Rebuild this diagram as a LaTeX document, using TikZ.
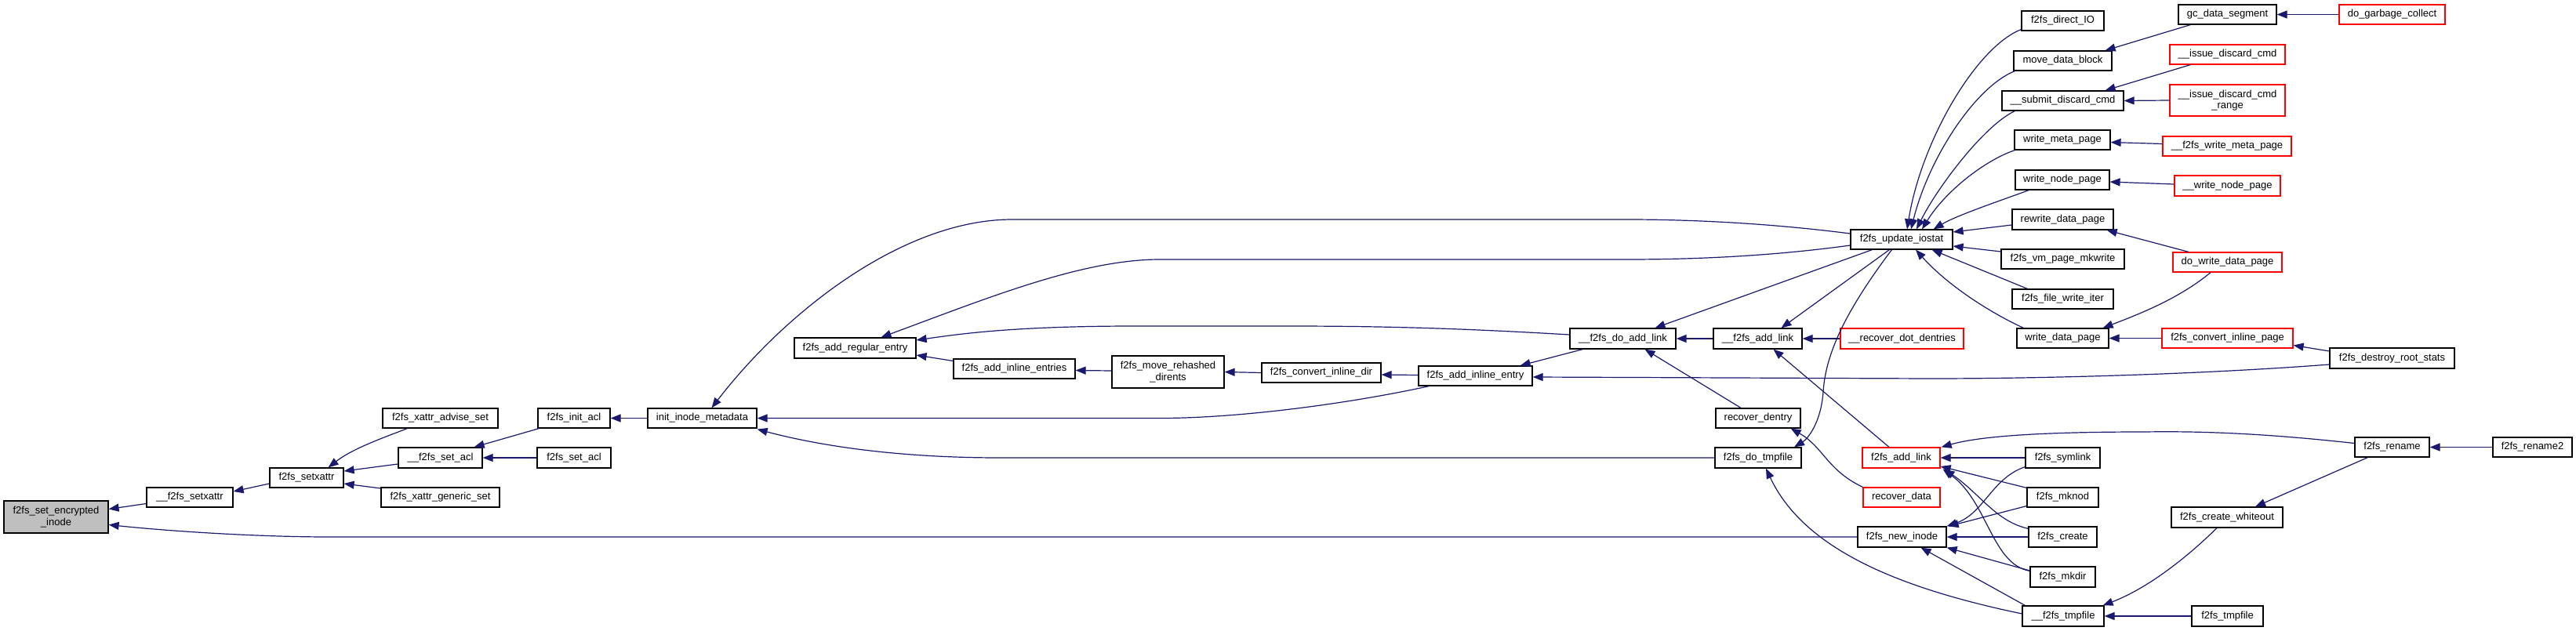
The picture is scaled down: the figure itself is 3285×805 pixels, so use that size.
\documentclass[tikz,border=0pt]{standalone}
\usepackage{fontspec}
\setmainfont{Liberation Sans}
\usetikzlibrary{arrows.meta,calc}
\definecolor{edgeblue}{HTML}{191970}
\definecolor{rootgray}{HTML}{BFBFBF}
\definecolor{boxred}{HTML}{FF0000}
\newcommand{\fnt}{\fontsize{13}{14.5}\selectfont}
\newcommand{\nd}[7][box]{\node[#1, minimum width={(#4-#3)*1pt}, minimum height={(#6-#5)*1pt}] (#2) at ({(#3+#4)/2},{(#5+#6)/2}) {#7};}
\tikzset{
  box/.style={draw=black, line width=1.2pt, fill=white, inner sep=0pt, font=\fnt, align=center},
  rbox/.style={box, draw=boxred},
  rootbox/.style={box, fill=rootgray},
  edge/.style={draw=edgeblue, line width=1.2pt, -{Triangle[length=13pt,width=10pt]}},
}
\begin{document}
\begin{tikzpicture}[x=1pt,y=-1pt]
\fill[white] (0,0) rectangle (3285,805);
\useasboundingbox (0,0) rectangle (3285,805);
% nodes
\nd[rootbox]{root}{5}{138}{639}{680}{f2fs\_set\_encrypted\\\_inode}
\nd{sxu}{187}{297}{622}{647}{\_\_f2fs\_setxattr}
\nd{sx}{344}{438}{597}{622}{f2fs\_setxattr}
\nd{adv}{488}{635}{521}{546}{f2fs\_xattr\_advise\_set}
\nd{sacu}{508}{615}{571}{597}{\_\_f2fs\_set\_acl}
\nd{gen}{486}{637}{622}{647}{f2fs\_xattr\_generic\_set}
\nd{iacl}{686}{778}{521}{546}{f2fs\_init\_acl}
\nd{sacl}{685}{779}{571}{597}{f2fs\_set\_acl}
\nd{iim}{826}{965}{521}{546}{init\_inode\_metadata}
\nd{are}{1013}{1168}{431}{457}{f2fs\_add\_regular\_entry}
\nd{aies}{1216}{1371}{458}{483}{f2fs\_add\_inline\_entries}
\nd{mrd}{1418}{1561}{454}{495}{f2fs\_move\_rehashed\\\_dirents}
\nd{cid}{1609}{1761}{463}{488}{f2fs\_convert\_inline\_dir}
\nd{aie}{1809}{1954}{467}{492}{f2fs\_add\_inline\_entry}
\nd{dal}{2002}{2137}{419}{445}{\_\_f2fs\_do\_add\_link}
\nd{alu}{2185}{2298}{419}{445}{\_\_f2fs\_add\_link}
\nd{rd}{2188}{2296}{521}{546}{recover\_dentry}
\nd{dtf}{2187}{2297}{571}{597}{f2fs\_do\_tmpfile}
\nd{ios}{2360}{2490}{293}{318}{f2fs\_update\_iostat}
\nd[rbox]{rdd}{2347}{2504}{419}{445}{\_\_recover\_dot\_dentries}
\nd[rbox]{al}{2375}{2474}{571}{597}{f2fs\_add\_link}
\nd[rbox]{rdata}{2376}{2474}{622}{647}{recover\_data}
\nd{ni}{2369}{2482}{672}{698}{f2fs\_new\_inode}
\nd{dio}{2578}{2683}{14}{39}{f2fs\_direct\_IO}
\nd{mdb}{2568}{2693}{65}{90}{move\_data\_block}
\nd{sdc}{2553}{2708}{116}{141}{\_\_submit\_discard\_cmd}
\nd{wmp}{2569}{2691}{166}{191}{write\_meta\_page}
\nd{wnp}{2570}{2690}{217}{242}{write\_node\_page}
\nd{rwp}{2566}{2695}{267}{293}{rewrite\_data\_page}
\nd{vmw}{2552}{2709}{318}{343}{f2fs\_vm\_page\_mkwrite}
\nd{fwi}{2566}{2695}{369}{394}{f2fs\_file\_write\_iter}
\nd{wdp}{2572}{2689}{419}{444}{write\_data\_page}
\nd{sym}{2583}{2678}{571}{597}{f2fs\_symlink}
\nd{mkn}{2585}{2676}{622}{647}{f2fs\_mknod}
\nd{cre}{2587}{2674}{672}{698}{f2fs\_create}
\nd{mkd}{2589}{2672}{723}{749}{f2fs\_mkdir}
\nd{tmu}{2579}{2683}{773}{799}{\_\_f2fs\_tmpfile}
\nd{gcs}{2778}{2903}{6}{31}{gc\_data\_segment}
\nd[rbox]{idc}{2767}{2914}{57}{82}{\_\_issue\_discard\_cmd}
\nd[rbox]{idr}{2767}{2914}{108}{148}{\_\_issue\_discard\_cmd\\\_range}
\nd[rbox]{fwm}{2758}{2922}{174}{199}{\_\_f2fs\_write\_meta\_page}
\nd[rbox]{wnpu}{2773}{2908}{224}{250}{\_\_write\_node\_page}
\nd[rbox]{dwd}{2771}{2910}{322}{347}{do\_write\_data\_page}
\nd[rbox]{cip}{2757}{2924}{419}{444}{f2fs\_convert\_inline\_page}
\nd{cwo}{2769}{2911}{647}{673}{f2fs\_create\_whiteout}
\nd{tmp}{2795}{2886}{773}{799}{f2fs\_tmpfile}
\nd[rbox]{dgc}{2983}{3118}{6}{31}{do\_garbage\_collect}
\nd{drs}{2971}{3130}{444}{470}{f2fs\_destroy\_root\_stats}
\nd{ren}{3003}{3098}{558}{583}{f2fs\_rename}
\nd{ren2}{3179}{3280}{558}{583}{f2fs\_rename2}
% edges
\draw[edge] ($(sxu.west)+(0,8)$) -- ($(root.east)+(0,-10)$);
\draw[edge] (ni.west) -- (420,685) .. controls (330,685) and (220,678) .. ($(root.east)+(0,10)$);
\draw[edge] ($(sx.west)+(0,7.5)$) -- ($(sxu.east)+(0,-7.5)$);
\draw[edge] ($(adv.south west)+(32,0)$) .. controls (490,558) and (450,572) .. ($(sx.north east)+(-20,0)$);
\draw[edge] ($(sacu.west)+(0,8)$) -- ($(sx.east)+(0,-8.5)$);
\draw[edge] ($(gen.west)+(0,-11.5)$) -- ($(sx.east)+(0,7.5)$);
\draw[edge] ($(iacl.south west)+(2,0)$) -- ($(sacu.north east)+(-11,0)$);
\draw[edge] (sacl.west) -- (sacu.east);
\draw[edge] (iim.west) -- (iacl.east);
\draw[edge] ($(ios.west)+(0,-7.5)$) .. controls (2250,284) and (2150,280) .. (2074,280) -- (1291,280) .. controls (1150,280) and (1000,400) .. ($(iim.north)+(12,0)$);
\draw[edge] ($(ios.west)+(0,7.5)$) .. controls (2250,328) and (2150,331) .. (2074,331) -- (1479,331) .. controls (1380,331) and (1260,380) .. ($(are.north)+(33,0)$);
\draw[edge] ($(dal.west)+(0,-5)$) .. controls (1850,418) and (1750,416) .. (1640,416) -- (1448,416) .. controls (1300,416) and (1230,425) .. ($(are.east)+(0,-10)$);
\draw[edge] ($(aies.west)+(0,-10)$) -- ($(are.east)+(0,9)$);
\draw[edge] ($(mrd.west)+(0,-1.5)$) -- ($(aies.east)+(0,2)$);
\draw[edge] (cid.west) -- (mrd.east);
\draw[edge] ($(aie.west)+(0,-1)$) -- ($(cid.east)+(0,2.5)$);
\draw[edge] ($(aie.south west)+(14,0)$) .. controls (1720,515) and (1580,533.5) .. (1480,533.5) -- (iim.east);
\draw[edge] (dtf.west) -- (1275,584) .. controls (1150,584) and (1050,570) .. ($(iim.south east)+(0,1)$);
\draw[edge] ($(ios.south west)+(28,0)$) -- ($(dal.north)+(41,0)$);
\draw[edge] ($(ios.south west)+(50,0)$) -- ($(alu.north)+(30,0)$);
\draw[edge] ($(ios.south west)+(53,0)$) .. controls (2355,395) and (2328,450) .. (2325,500) .. controls (2322,540) and (2305,560) .. ($(dtf.north)+(46,0)$);
\draw[edge] ($(rd.north)+(-22,0)$) -- ($(dal.south)+(28,0)$);
\draw[edge] (rdata.north west) .. controls (2330,600) and (2325,570) .. ($(rd.south east)+(-13,0)$);
\draw[edge] ($(al.north)+(-15.5,0)$) -- ($(alu.south)+(20,0)$);
\draw[edge] (rdd.west) -- (alu.east);
\draw[edge] (alu.west) -- (dal.east);
\draw[edge] ($(dal.south west)+(17,0)$) -- ($(aie.north east)+(-16,0)$);
\draw[edge] ($(drs.west)+(0,8)$) .. controls (2800,478) and (2600,483) .. (2460,483) -- ($(aie.east)+(0,1.5)$);
\draw[edge] ($(drs.west)+(0,-9)$) -- ($(cip.east)+(0,9)$);
\draw[edge] (cip.west) -- (wdp.east);
\draw[edge] ($(wdp.north west)+(9,0)$) .. controls (2530,395) and (2480,360) .. ($(ios.south)+(18,0)$);
\draw[edge] ($(dwd.south)+(-21.5,0)$) .. controls (2780,380) and (2730,400) .. ($(wdp.north east)+(-8,0)$);
\draw[edge] ($(dwd.north)+(-49.5,0)$) -- ($(rwp.south east)+(-9,0)$);
\draw[edge] ($(dio.south west)+(0,-2)$) .. controls (2520,60) and (2450,180) .. ($(ios.north)+(7,0)$);
\draw[edge] ($(mdb.south west)+(2,0)$) .. controls (2520,110) and (2460,200) .. ($(ios.north)+(12,0)$);
\draw[edge] ($(sdc.south west)+(17,0)$) .. controls (2530,160) and (2470,240) .. ($(ios.north)+(19,0)$);
\draw[edge] ($(wmp.south west)+(1,0)$) .. controls (2530,205) and (2480,245) .. ($(ios.north)+(26,0)$);
\draw[edge] ($(wnp.south west)+(18,0)$) .. controls (2545,258) and (2495,275) .. ($(ios.north east)+(-25,0)$);
\draw[edge] ($(rwp.west)+(0,7)$) -- ($(ios.east)+(0,-9.5)$);
\draw[edge] ($(vmw.west)+(0,-9.5)$) -- ($(ios.east)+(0,8.5)$);
\draw[edge] ($(fwi.north west)+(20,0)$) -- ($(ios.south east)+(-27,0)$);
\draw[edge] ($(gcs.south west)+(16,0)$) -- ($(mdb.north east)+(-9,0)$);
\draw[edge] (dgc.west) -- (gcs.east);
\draw[edge] ($(idc.south west)+(27,0)$) -- ($(sdc.north east)+(-24,0)$);
\draw[edge] (idr.west) -- (sdc.east);
\draw[edge] ($(fwm.west)+(0,-3)$) -- ($(wmp.east)+(0,3)$);
\draw[edge] ($(wnpu.west)+(0,-2)$) -- ($(wnp.east)+(0,2.5)$);
\draw[edge] ($(ren.west)+(0,-5)$) .. controls (2880,552) and (2800,550) .. (2734,551) .. controls (2620,551) and (2530,555) .. ($(al.north east)+(1,0)$);
\draw[edge] (sym.west) -- (al.east);
\draw[edge] ($(mkn.north west)+(0,1)$) -- ($(al.east)+(0,11)$);
\draw[edge] ($(cre.north west)+(0,3)$) .. controls (2545,665) and (2525,630) .. ($(al.south east)+(5,1)$);
\draw[edge] ($(mkd.north west)+(0,6)$) .. controls (2540,720) and (2535,640) .. ($(al.south east)+(3,1)$);
\draw[edge] ($(sym.south west)+(0,-2)$) .. controls (2540,610) and (2530,655) .. ($(ni.north east)+(0,0)$);
\draw[edge] ($(mkn.west)+(0,11)$) -- ($(ni.north east)+(2,0)$);
\draw[edge] (cre.west) -- (ni.east);
\draw[edge] ($(mkd.west)+(0,-8)$) -- (ni.south east);
\draw[edge] ($(tmu.north west)+(4,0)$) -- ($(ni.south)+(24,0)$);
\draw[edge] ($(tmu.west)+(0,-3)$) .. controls (2420,750) and (2300,700) .. ($(dtf.south)+(10,0)$);
\draw[edge] ($(cwo.south)+(-13,0)$) .. controls (2790,710) and (2740,750) .. ($(tmu.north east)+(-2,0)$);
\draw[edge] (tmp.west) -- (tmu.east);
\draw[edge] ($(ren.south west)+(17,0)$) -- ($(cwo.north)+(36,0)$);
\draw[edge] (ren2.west) -- (ren.east);
\end{tikzpicture}
\end{document}
